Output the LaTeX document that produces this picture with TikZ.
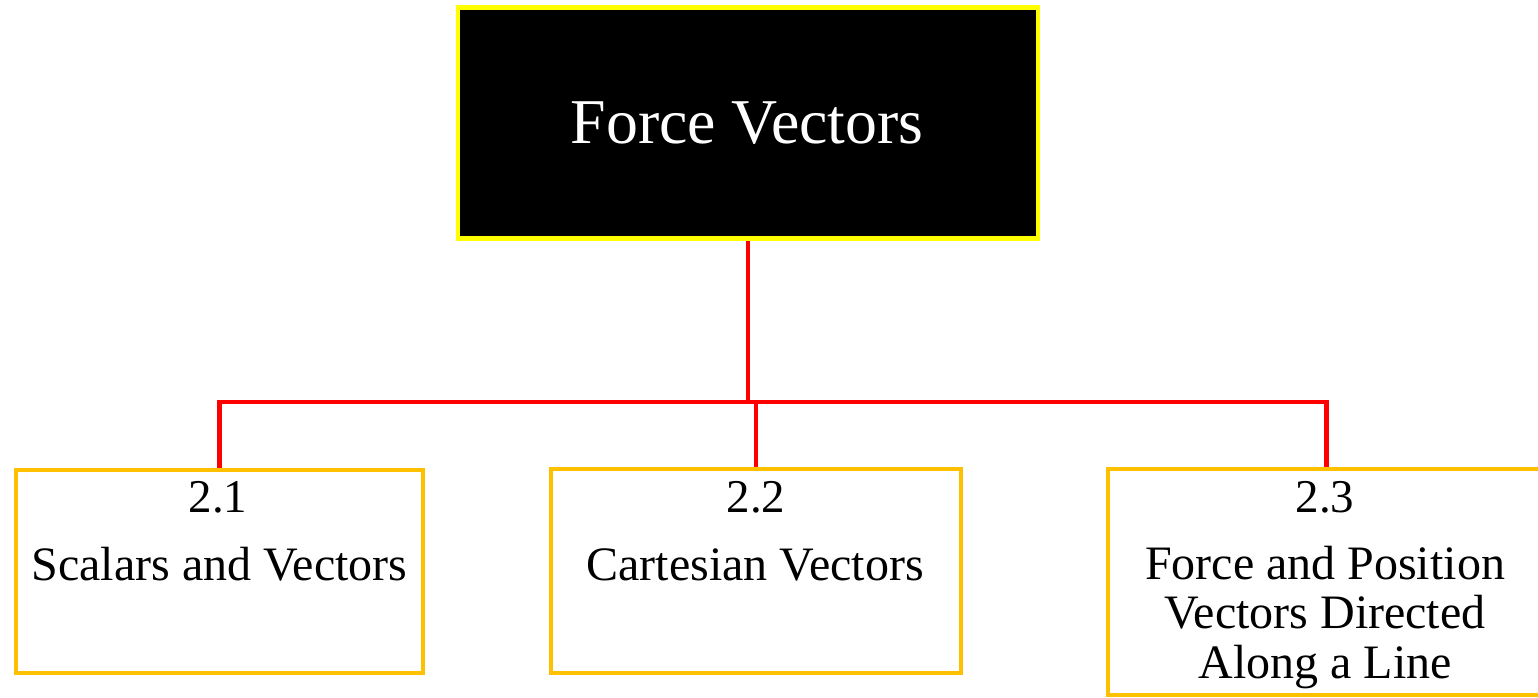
\documentclass[tikz,border=0pt]{standalone}
\usepackage{fontspec}
\setmainfont{Liberation Serif}
\definecolor{topyellow}{HTML}{FFFF00}
\definecolor{boxorange}{HTML}{FFC000}
\definecolor{linkred}{HTML}{FF0000}
\begin{document}
\begin{tikzpicture}[x=1pt,y=-1pt,
  topbox/.style={draw=topyellow, fill=black, line width=4.5pt, inner sep=0pt, minimum width=580pt, minimum height=231pt},
  subbox/.style={draw=boxorange, line width=4.5pt, inner sep=0pt},
  link/.style={draw=linkred, line width=4.5pt},
  bigtext/.style={font=\fontsize{63.8}{70}\selectfont, text=white, anchor=base, inner sep=0pt},
  numtext/.style={font=\fontsize{47}{50}\selectfont, anchor=base, inner sep=0pt},
  smalltext/.style={font=\fontsize{48}{49.5}\selectfont, anchor=base, inner sep=0pt, align=center}]
\useasboundingbox (0,0) rectangle (1538,697);
\fill[white] (0,0) rectangle (1538,697);
% boxes
\node[topbox] (top) at (748,123) {};
\node[subbox, minimum width=407pt, minimum height=203pt] (b1) at (219.5,571.5) {};
\node[subbox, minimum width=410pt, minimum height=204pt] (b2) at (756,571) {};
\node[subbox, minimum width=437pt, minimum height=226pt] (b3) at (1326.5,582) {};
% texts
\node[bigtext] (ttop) at (747,143) {Force Vectors};
\node[numtext] (n1) at (218,512) {2.1};
\node[smalltext] (t1) at (219.5,580) {Scalars and Vectors};
\node[numtext] (n2) at (756,512) {2.2};
\node[smalltext] (t2) at (755,580) {Cartesian Vectors};
\node[numtext] (n3) at (1325,512) {2.3};
\node[smalltext] (t3) at (1325,678) {Force and Position\\Vectors Directed\\Along a Line};
% connectors
\coordinate (bus) at (748,402);
\draw[link] (top.south) -- (bus);
\draw[link] (b1.north) -- (b1.north |- bus) -- (b3.north |- bus) -- (b3.north);
\draw[link] (b2.north) -- (b2.north |- bus);
\end{tikzpicture}
\end{document}
